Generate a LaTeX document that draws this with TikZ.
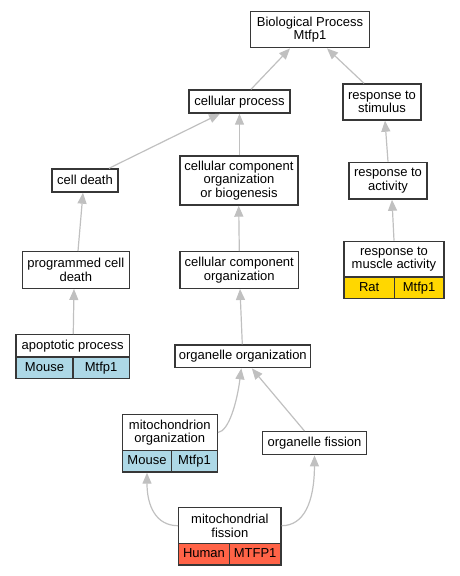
\documentclass[tikz,border=0pt]{standalone}
\usepackage{fontspec}
\setmainfont{Liberation Sans}
\usetikzlibrary{arrows.meta}
\definecolor{boxc}{RGB}{55,55,55}
\definecolor{edgec}{RGB}{192,192,192}
\definecolor{lblue}{RGB}{173,216,230}
\definecolor{gold}{RGB}{255,215,0}
\definecolor{tomato}{RGB}{255,99,71}
\tikzset{
  box/.style={draw=boxc, line width=1.4pt, fill=white, inner sep=0pt, align=center,
    font=\fontsize{13}{13.5}\selectfont, text=black},
  oneline/.style={box, text height=9.6pt, text depth=2.6pt},
  edge/.style={draw=edgec, line width=1.2pt, -{Triangle[length=11pt,width=9pt]}},
}
\begin{document}
\begin{tikzpicture}[x=1pt,y=-1pt]
\useasboundingbox (0,0) rectangle (459,576);
% nodes
\node[box, minimum width=118.7, minimum height=36] (bp) at (310,29.7) {Biological Process\\Mtfp1};
\node[oneline, minimum width=101, minimum height=23] (cp) at (239.5,101.5) {cellular process};
\node[box, minimum width=78, minimum height=36] (rs) at (382,102) {response to\\stimulus};
\node[oneline, minimum width=66, minimum height=23] (cd) at (85,180.5) {cell death};
\node[box, minimum width=118, minimum height=49] (ccob) at (239,180.5) {cellular component\\organization\\or biogenesis};
\node[box, minimum width=78, minimum height=36.7] (ra) at (388,180.7) {response to\\activity};
\node[box, minimum width=107, minimum height=36.6] (pcd) at (75.8,270) {programmed cell\\death};
\node[box, minimum width=118.7, minimum height=36.6] (cco) at (239.3,270) {cellular component\\organization};
\node[box, minimum width=100, minimum height=35.7] (rma) at (394,259.15) {response to\\muscle activity};
\node[oneline, fill=gold, minimum width=50.3, minimum height=21.7] (rmaA) at (369.15,287.85) {Rat};
\node[oneline, fill=gold, minimum width=49.7, minimum height=21.7] (rmaB) at (419.15,287.85) {Mtfp1};
\node[oneline, minimum width=113.3, minimum height=22.3] (apop) at (72.65,345.85) {apoptotic process};
\node[oneline, fill=lblue, minimum width=57, minimum height=21.3] (apopA) at (44.5,367.65) {Mouse};
\node[oneline, fill=lblue, minimum width=56.3, minimum height=21.3] (apopB) at (101.15,367.65) {Mtfp1};
\node[oneline, minimum width=135.7, minimum height=22.7] (oo) at (242.8,356.3) {organelle organization};
\node[box, minimum width=95, minimum height=36.4] (mo) at (169.8,432.5) {mitochondrion\\organization};
\node[oneline, fill=lblue, minimum width=49.4, minimum height=21.3] (moA) at (147,461.35) {Mouse};
\node[oneline, fill=lblue, minimum width=45.6, minimum height=21.3] (moB) at (194.5,461.35) {Mtfp1};
\node[oneline, minimum width=104.4, minimum height=23] (of) at (314.5,443.2) {organelle fission};
\node[box, minimum width=102.3, minimum height=36] (mf) at (229.85,525.7) {mitochondrial\\fission};
\node[oneline, fill=tomato, minimum width=50.6, minimum height=21.3] (mfA) at (204,554.35) {Human};
\node[oneline, fill=tomato, minimum width=51.7, minimum height=21.3] (mfB) at (255.15,554.35) {MTFP1};
% edges
\draw[edge] ([xshift=11.5pt]cp.north) -- ([xshift=-20pt]bp.south);
\draw[edge] ([xshift=-18pt]rs.north) -- ([xshift=17pt]bp.south);
\draw[edge] ([xshift=24pt]cd.north) -- ([xshift=-19.5pt]cp.south);
\draw[edge] ([xshift=0.5pt]ccob.north) -- (cp.south);
\draw[edge] (ra.north) -- ([xshift=3pt]rs.south);
\draw[edge] ([xshift=2.2pt]pcd.north) -- ([xshift=-2pt]cd.south);
\draw[edge] (cco.north) -- ([xshift=-0.3pt]ccob.south);
\draw[edge] (rma.north) -- ([xshift=4pt]ra.south);
\draw[edge] ([xshift=0.6pt]apop.north) -- ([xshift=-1.8pt]pcd.south);
\draw[edge] ([xshift=-0.5pt]oo.north) -- ([xshift=0.7pt]cco.south);
\draw[edge] (mo.east) .. controls (229,431) and (237,402) .. ([xshift=-1.5pt]oo.south);
\draw[edge] ([xshift=-10pt]of.north) -- ([xshift=9pt]oo.south);
\draw[edge] (mf.west) .. controls (156,525.7) and (147,506) .. (moA.south);
\draw[edge] (mf.east) .. controls (304,525.7) and (314.3,502) .. (of.south);
\end{tikzpicture}
\end{document}
